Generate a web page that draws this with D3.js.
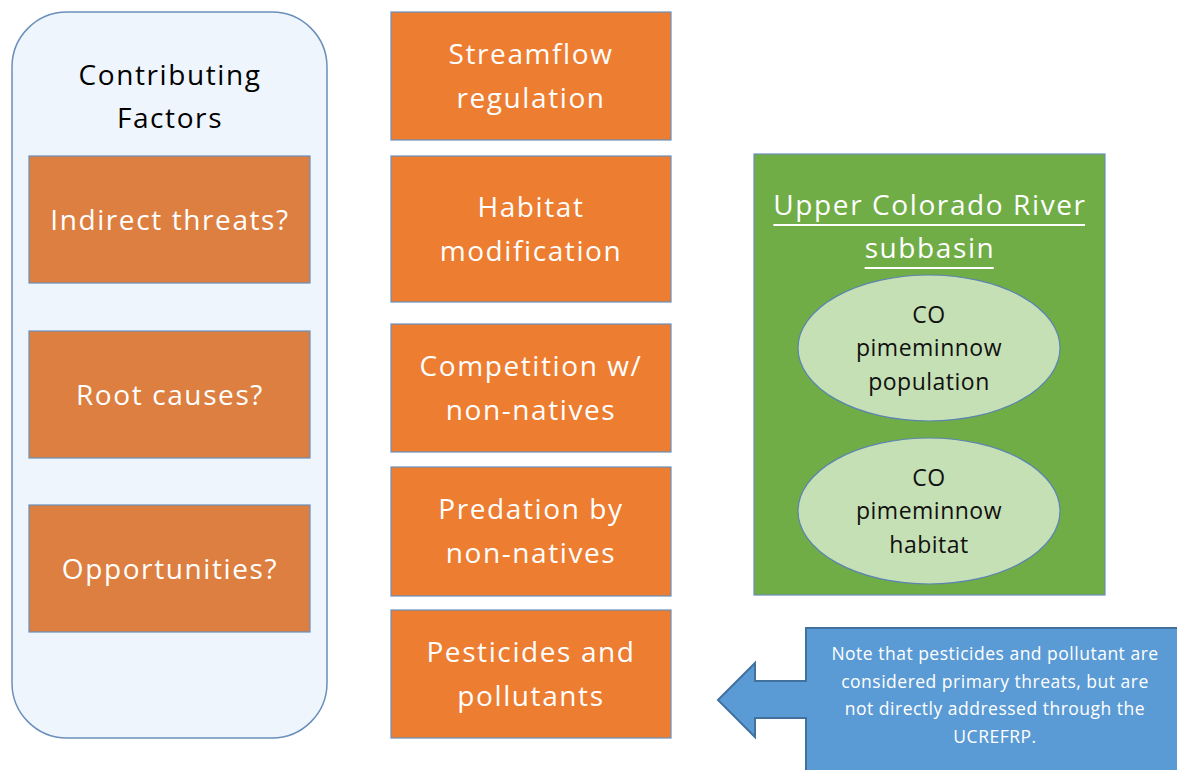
<!DOCTYPE html>
<html><head><meta charset="utf-8">
<script src="https://cdn.jsdelivr.net/npm/d3@7"></script>
<style>html,body{margin:0;padding:0;background:#fff;} svg{display:block;}</style>
</head><body>
<script>
// ---- content ----
const panelTitle = ["Contributing", "Factors"];
const factors = [["Indirect threats?"], ["Root causes?"], ["Opportunities?"]];
const threats = [
  ["Streamflow", "regulation"],
  ["Habitat", "modification"],
  ["Competition w/", "non-natives"],
  ["Predation by", "non-natives"],
  ["Pesticides and", "pollutants"]
];
const basinTitle = ["Upper Colorado River", "subbasin"];
const targets = [["CO", "pimeminnow", "population"], ["CO", "pimeminnow", "habitat"]];
const noteLines = ["Note that pesticides and pollutant are", "considered primary threats, but are", "not directly addressed through the", "UCREFRP."];

// ---- layout ----
const W = 1177, H = 770;
const FONT = "'Open Sans', sans-serif";
const BIG = 28, BIG_LS = 1.6;
const svg = d3.select("body").append("svg").attr("width", W).attr("height", H);

function bigText(sel) {
  return sel.attr("text-anchor", "middle").attr("font-family", FONT).attr("font-size", BIG)
    .attr("letter-spacing", BIG_LS).attr("dy", "0.35em");
}

// left panel
svg.append("rect").attr("x", 12).attr("y", 12).attr("width", 315).attr("height", 726)
  .attr("rx", 55).attr("ry", 55).attr("fill", "#eef5fc").attr("stroke", "#6a8fbb").attr("stroke-width", 1.5);
svg.append("g").selectAll("text").data(panelTitle).join("text")
  .attr("x", 170).attr("y", (d, i) => 75 + i * 43).call(bigText).attr("fill", "#000").text(d => d);

const factorY = [156, 331, 505];
const fg = svg.append("g").selectAll("g").data(factors).join("g")
  .attr("transform", (d, i) => `translate(29,${factorY[i]})`);
fg.append("rect").attr("width", 281).attr("height", 127).attr("fill", "#dd7f41").attr("stroke", "#6a8fbb").attr("stroke-width", 1.2);
fg.selectAll("text").data(d => d).join("text")
  .attr("x", 141).attr("y", 64).call(bigText).attr("fill", "#fff").text(d => d);

// threats column
const threatBoxes = [[12, 128], [156, 146], [324, 128], [467, 129], [610, 128]];
const tg = svg.append("g").selectAll("g").data(threats).join("g")
  .attr("transform", (d, i) => `translate(391,${threatBoxes[i][0]})`);
tg.append("rect").attr("width", 280).attr("height", (d, i) => threatBoxes[i][1])
  .attr("fill", "#ed7d31").attr("stroke", "#6a8fbb").attr("stroke-width", 1.2);
tg.each(function (d, i) {
  const h = threatBoxes[i][1];
  d3.select(this).selectAll("text").data(d).join("text")
    .attr("x", 140).attr("y", (t, j) => h / 2 + (j - (d.length - 1) / 2) * 44)
    .call(bigText).attr("fill", "#fff").text(t => t);
});

// basin box
svg.append("rect").attr("x", 754).attr("y", 154).attr("width", 351).attr("height", 441)
  .attr("fill", "#70ad47").attr("stroke", "#6a8fbb").attr("stroke-width", 1.2);
const bt = svg.append("g").selectAll("text").data(basinTitle).join("text")
  .attr("x", 930).attr("y", (d, i) => 205 + i * 43).call(bigText).attr("fill", "#fff").text(d => d);
// underline
bt.each(function (d, i) {
  const bb = this.getBBox();
  svg.append("line").attr("x1", bb.x).attr("x2", bb.x + bb.width - BIG_LS)
    .attr("y1", 205 + i * 43 + 20).attr("y2", 205 + i * 43 + 20)
    .attr("stroke", "#fff").attr("stroke-width", 2);
});

const ellipseCY = [348, 511];
const eg = svg.append("g").selectAll("g").data(targets).join("g")
  .attr("transform", (d, i) => `translate(929,${ellipseCY[i]})`);
eg.append("ellipse").attr("rx", 131).attr("ry", 73).attr("fill", "#c5e0b4").attr("stroke", "#5b84b1").attr("stroke-width", 1.2);
eg.selectAll("text").data(d => d).join("text")
  .attr("x", 0).attr("y", (t, j) => (j - 1) * 33.5).attr("dy", "0.35em")
  .attr("text-anchor", "middle").attr("font-family", FONT).attr("font-size", 23).attr("letter-spacing", 0.5)
  .attr("fill", "#111").text(t => t);

// note callout (left arrow)
const arrow = d3.path();
arrow.moveTo(718, 700); arrow.lineTo(755, 663); arrow.lineTo(755, 681); arrow.lineTo(806, 681);
arrow.lineTo(806, 628); arrow.lineTo(1180, 628); arrow.lineTo(1180, 775); arrow.lineTo(806, 775);
arrow.lineTo(806, 718); arrow.lineTo(755, 718); arrow.lineTo(755, 737); arrow.closePath();
svg.append("path").attr("d", arrow.toString()).attr("fill", "#5b9bd5").attr("stroke", "#41719c").attr("stroke-width", 2);
svg.append("g").selectAll("text").data(noteLines).join("text")
  .attr("x", 995).attr("y", (d, i) => 654 + i * 27.6).attr("dy", "0.35em")
  .attr("text-anchor", "middle").attr("font-family", FONT).attr("font-size", 17.5).attr("letter-spacing", 0.5)
  .attr("fill", "#fff").text(d => d);
</script>
</body></html>
